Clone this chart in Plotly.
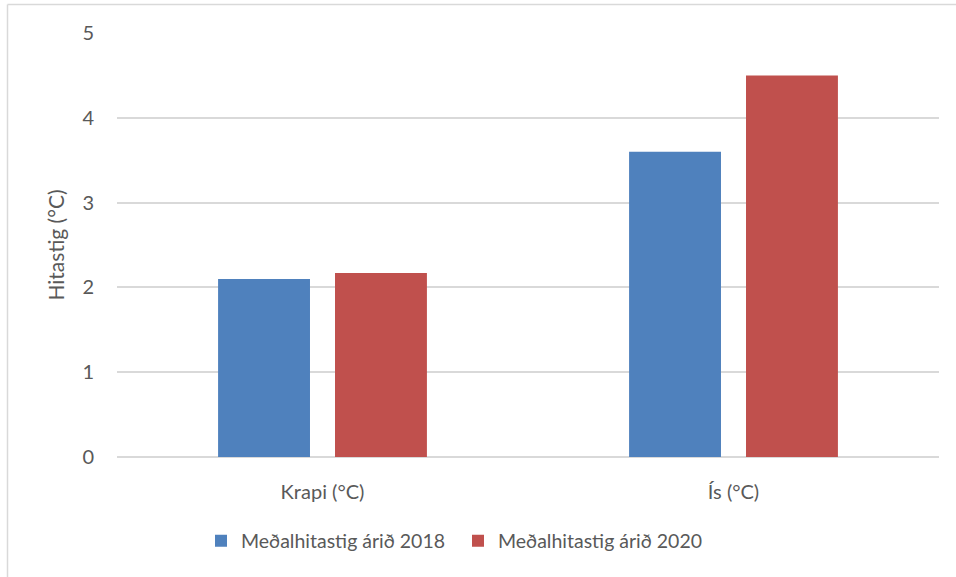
import plotly.graph_objects as go

categories = ["Krapi (°C)", "Ís (°C)"]
series_names = ["Meðalhitastig árið 2018", "Meðalhitastig árið 2020"]
values_2018 = [2.1, 3.6]
values_2020 = [2.17, 4.5]
y_ticks = [0, 1, 2, 3, 4, 5]

colors = ["#4F81BD", "#C0504D"]
font_family = "Lato, 'Liberation Sans', sans-serif"
text_color = "#595959"
grid_color = "#D9D9D9"

fig = go.Figure()
for name, vals, col in zip(series_names, [values_2018, values_2020], colors):
    fig.add_trace(go.Bar(x=categories, y=vals, name=name, marker_color=col,
                         marker_line_width=0))

W, H = 956, 577
ml, mr, mt, mb = 117, 17, 33, 120
pw, ph = W - ml - mr, H - mt - mb

def px_x(p):
    return (p - ml) / pw

def px_y(p):
    return 1 - (p - mt) / ph

fig.update_layout(
    width=W, height=H,
    margin=dict(l=ml, r=mr, t=mt, b=mb, pad=0),
    paper_bgcolor="white", plot_bgcolor="white",
    font=dict(family=font_family, color=text_color, size=20),
    barmode="group", bargap=0.431, bargroupgap=0.214,
    showlegend=True,
    legend=dict(orientation="h", x=px_x(201), xanchor="left",
                y=px_y(541), yanchor="middle",
                font=dict(size=19.5, color=text_color),
                itemwidth=30, tracegroupgap=0, entrywidth=212),
    xaxis=dict(showgrid=False, showline=False, ticks="",
               tickfont=dict(size=20, color=text_color),
               ticklabelstandoff=21),
    yaxis=dict(range=[0, 5], tickvals=y_ticks, showgrid=True,
               gridcolor=grid_color, gridwidth=1.5,
               zeroline=True, zerolinecolor=grid_color, zerolinewidth=1.5,
               showline=False, ticks="", ticklabelstandoff=22,
               tickfont=dict(size=20, color=text_color),
               title=dict(text="Hitastig (°C)", font=dict(size=21, color=text_color),
                          standoff=12)),
    shapes=[
        dict(type="line", xref="paper", yref="paper",
             x0=px_x(7.5), x1=px_x(7.5), y0=px_y(4.5), y1=px_y(700),
             line=dict(color=grid_color, width=1.5)),
        dict(type="line", xref="paper", yref="paper",
             x0=px_x(7.5), x1=px_x(1100), y0=px_y(4.5), y1=px_y(4.5),
             line=dict(color=grid_color, width=1.5)),
    ],
)

fig.write_html("out.html", config={"displayModeBar": False},
               post_script="document.body.style.margin='0px';document.body.style.overflow='hidden';")
